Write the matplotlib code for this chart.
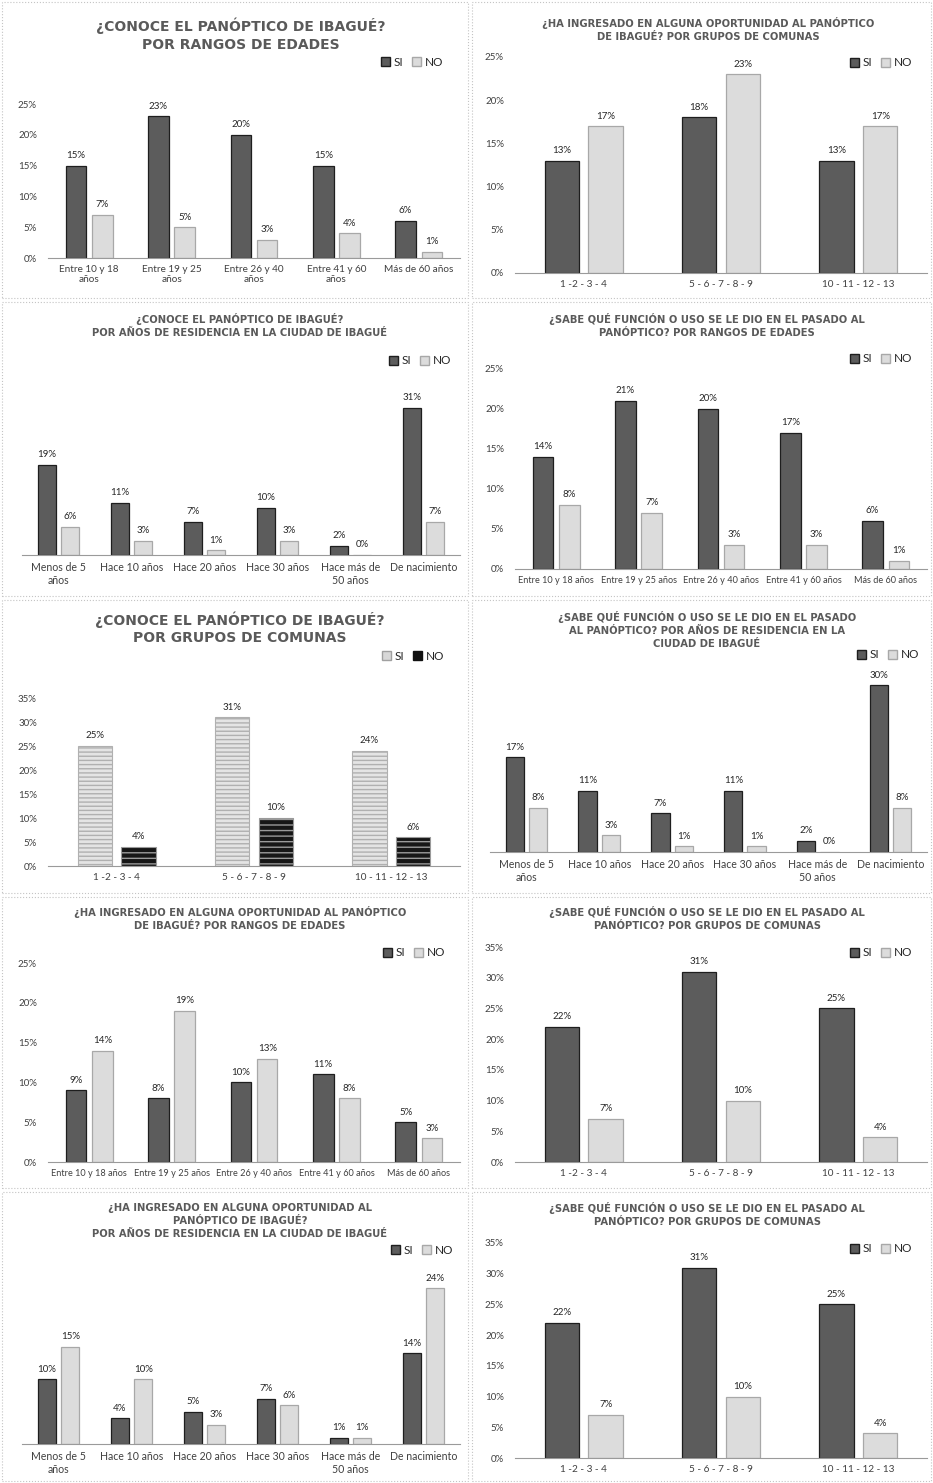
import matplotlib
matplotlib.use('Agg')
from matplotlib import pyplot as plt
from matplotlib.patches import Patch, Rectangle
import numpy as np

plt.rcParams['font.family'] = ['Lato', 'DejaVu Sans']
plt.rcParams['hatch.linewidth'] = 1.0

# ---- categorias
edades = ['Entre 10 y 18 años', 'Entre 19 y 25 años', 'Entre 26 y 40 años',
          'Entre 41 y 60 años', 'Más de 60 años']
edades_2l = ['Entre 10 y 18\naños', 'Entre 19 y 25\naños', 'Entre 26 y 40\naños',
             'Entre 41 y 60\naños', 'Más de 60 años']
residencia = ['Menos de 5\naños', 'Hace 10 años', 'Hace 20 años', 'Hace 30 años',
              'Hace más de\n50 años', 'De nacimiento']
comunas = ['1 -2 - 3 - 4', '5 - 6 - 7 - 8 - 9', '10 - 11 - 12 - 13']

# ---- valores (%)
conoce_edades_si = [15, 23, 20, 15, 6]
conoce_edades_no = [7, 5, 3, 4, 1]
conoce_resid_si = [19, 11, 7, 10, 2, 31]
conoce_resid_no = [6, 3, 1, 3, 0, 7]
conoce_comunas_si = [25, 31, 24]
conoce_comunas_no = [4, 10, 6]
ingreso_edades_si = [9, 8, 10, 11, 5]
ingreso_edades_no = [14, 19, 13, 8, 3]
ingreso_resid_si = [10, 4, 5, 7, 1, 14]
ingreso_resid_no = [15, 10, 3, 6, 1, 24]
ingreso_comunas_si = [13, 18, 13]
ingreso_comunas_no = [17, 23, 17]
sabe_edades_si = [14, 21, 20, 17, 6]
sabe_edades_no = [8, 7, 3, 3, 1]
sabe_resid_si = [17, 11, 7, 11, 2, 30]
sabe_resid_no = [8, 3, 1, 1, 0, 8]
sabe_comunas_si = [22, 31, 25]
sabe_comunas_no = [7, 10, 4]

# ---- titulos
t_conoce_edades = '¿CONOCE EL PANÓPTICO DE IBAGUÉ?\nPOR RANGOS DE EDADES'
t_conoce_resid = '¿CONOCE EL PANÓPTICO DE IBAGUÉ?\nPOR AÑOS DE RESIDENCIA EN LA CIUDAD DE IBAGUÉ'
t_conoce_comunas = '¿CONOCE EL PANÓPTICO DE IBAGUÉ?\nPOR GRUPOS DE COMUNAS'
t_ingreso_edades = '¿HA INGRESADO EN ALGUNA OPORTUNIDAD AL PANÓPTICO\nDE IBAGUÉ? POR RANGOS DE EDADES'
t_ingreso_resid = ('¿HA INGRESADO EN ALGUNA OPORTUNIDAD AL\nPANÓPTICO DE IBAGUÉ?\n'
                   'POR AÑOS DE RESIDENCIA EN LA CIUDAD DE IBAGUÉ')
t_ingreso_comunas = '¿HA INGRESADO EN ALGUNA OPORTUNIDAD AL PANÓPTICO\nDE IBAGUÉ? POR GRUPOS DE COMUNAS'
t_sabe_edades = '¿SABE QUÉ FUNCIÓN O USO SE LE DIO EN EL PASADO AL\nPANÓPTICO? POR RANGOS DE EDADES'
t_sabe_resid = ('¿SABE QUÉ FUNCIÓN O USO SE LE DIO EN EL PASADO\nAL PANÓPTICO? POR AÑOS DE RESIDENCIA EN LA\n'
                'CIUDAD DE IBAGUÉ')
t_sabe_comunas = '¿SABE QUÉ FUNCIÓN O USO SE LE DIO EN EL PASADO AL\nPANÓPTICO? POR GRUPOS DE COMUNAS'

W, H = 933, 1483
fig = plt.figure(figsize=(W / 100, H / 100), dpi=100)
fig.patch.set_facecolor('white')

def frac(x, y):
    return x / W, 1 - y / H

def rect(x0, ytop, x1, ybot):
    return [x0 / W, 1 - ybot / H, (x1 - x0) / W, (ybot - ytop) / H]

# marcos de los paneles
for (x0, y0, x1, y1) in [(2, 2, 468, 298), (472, 2, 931, 298),
                         (2, 302, 468, 596), (472, 302, 931, 596),
                         (2, 600, 468, 893), (472, 600, 931, 893),
                         (2, 897, 468, 1188), (472, 897, 931, 1188),
                         (2, 1192, 468, 1481), (472, 1192, 931, 1481)]:
    fig.patches.append(Rectangle((x0 / W, 1 - y1 / H), (x1 - x0) / W, (y1 - y0) / H,
                                 transform=fig.transFigure, fill=False,
                                 ec='#c4c4c4', lw=0.8, ls=':'))

DARK, DARK_E = '#5c5c5c', '#1e1e1e'
LIGHT, LIGHT_E = '#dcdcdc', '#a8a8a8'
TXT = '#404040'


def panel(box, ymax, yticks, title, tpos, tsize, legpos, cats, si, no,
          rayas=False, catsize=7.2):
    ax = fig.add_axes(rect(*box))
    x = np.arange(len(cats))
    w, off = 0.25, 0.16
    if rayas:
        b1 = ax.bar(x - off, si, w, color='#e4e4e4', edgecolor='#b0b0b0',
                    hatch='----', lw=0.8)
        b2 = ax.bar(x + off, no, w, color='#161616', edgecolor='#9a9a9a',
                    hatch='---', lw=0.8)
        h1 = Patch(facecolor='#d8d8d8', edgecolor='#a0a0a0')
        h2 = Patch(facecolor='#111111', edgecolor='#111111')
    else:
        b1 = ax.bar(x - off, si, w, color=DARK, edgecolor=DARK_E, lw=0.9)
        b2 = ax.bar(x + off, no, w, color=LIGHT, edgecolor=LIGHT_E, lw=0.9)
        h1 = Patch(facecolor=DARK, edgecolor=DARK_E)
        h2 = Patch(facecolor=LIGHT, edgecolor=LIGHT_E)
    for b, v in ((b1, si), (b2, no)):
        lab = ax.bar_label(b, labels=[f'{val}%' for val in v], padding=4,
                           fontsize=7, color='#262626')
        for t in lab:
            t.set_clip_on(False)
    ax.set_xlim(-0.5, len(cats) - 0.5)
    ax.set_ylim(0, ymax)
    ax.set_xticks(x)
    ax.set_xticklabels(cats, fontsize=catsize, color=TXT, linespacing=1.2)
    if yticks is None:
        ax.set_yticks([])
    else:
        ax.set_yticks(yticks)
        ax.set_yticklabels([f'{v}%' for v in yticks], fontsize=7, color=TXT)
    ax.tick_params(length=0, pad=5)
    ax.tick_params(axis='y', pad=8)
    for s in ('top', 'right', 'left'):
        ax.spines[s].set_visible(False)
    ax.spines['bottom'].set_color('#9a9a9a')
    ax.set_facecolor('none')
    tx, ty = frac(*tpos)
    fig.text(tx, ty, title, ha='center', va='top', fontsize=tsize,
             fontweight='bold', color='#5a5a5a', family='DejaVu Sans',
             linespacing=1.35)
    lx, ly = frac(*legpos)
    fig.legend([h1, h2], ['SI', 'NO'], loc='center', bbox_to_anchor=(lx, ly),
               bbox_transform=fig.transFigure, ncol=2, frameon=False,
               handlelength=0.75, handleheight=0.75, handletextpad=0.3,
               columnspacing=0.8, fontsize=8.5, labelcolor='#262626')
    return ax


# columna izquierda
panel((48, 104, 460, 258), 25, [0, 5, 10, 15, 20, 25], t_conoce_edades,
      (241, 18), 10, (412, 62), edades_2l, conoce_edades_si, conoce_edades_no)
panel((22, 389, 460, 555), 35, None, t_conoce_resid,
      (240, 313), 7.2, (420, 361), residencia, conoce_resid_si, conoce_resid_no,
      catsize=7.6)
panel((48, 698, 460, 866), 35, [0, 5, 10, 15, 20, 25, 30, 35], t_conoce_comunas,
      (240, 611), 10, (413, 656), comunas, conoce_comunas_si, conoce_comunas_no,
      rayas=True)
panel((48, 963, 460, 1162), 25, [0, 5, 10, 15, 20, 25], t_ingreso_edades,
      (240, 906), 7.2, (414, 953), edades, ingreso_edades_si, ingreso_edades_no,
      catsize=6.6)
panel((22, 1282, 460, 1444), 25, None, t_ingreso_resid,
      (240, 1203), 7.2, (422, 1250), residencia, ingreso_resid_si, ingreso_resid_no,
      catsize=7.6)

# columna derecha
panel((515, 57, 927, 273), 25, [0, 5, 10, 15, 20, 25], t_ingreso_comunas,
      (708, 17), 7.2, (881, 63), comunas, ingreso_comunas_si, ingreso_comunas_no)
panel((515, 369, 927, 569), 25, [0, 5, 10, 15, 20, 25], t_sabe_edades,
      (707, 313), 7.2, (881, 359), edades, sabe_edades_si, sabe_edades_no,
      catsize=6.6)
panel((490, 674, 927, 852), 32, None, t_sabe_resid,
      (707, 611), 7.2, (888, 655), residencia, sabe_resid_si, sabe_resid_no,
      catsize=7.6)
panel((515, 947, 927, 1162), 35, [0, 5, 10, 15, 20, 25, 30, 35], t_sabe_comunas,
      (707, 906), 7.2, (881, 953), comunas, sabe_comunas_si, sabe_comunas_no)
panel((515, 1243, 927, 1458), 35, [0, 5, 10, 15, 20, 25, 30, 35], t_sabe_comunas,
      (707, 1202), 7.2, (881, 1249), comunas, sabe_comunas_si, sabe_comunas_no)

fig.savefig('out.png', dpi=100)
